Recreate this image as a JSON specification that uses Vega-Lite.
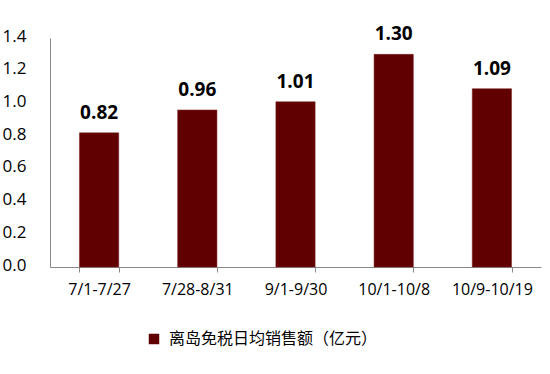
{
  "$schema": "https://vega.github.io/schema/vega-lite/v6.json",
  "autosize": {"type": "none"},
  "padding": {"left": 50, "top": 38, "right": 9, "bottom": 107},
  "width": 491,
  "height": 229,
  "background": "white",
  "data": {"values": [
    {"period": "7/1-7/27", "value": 0.82, "series": "离岛免税日均销售额（亿元）"},
    {"period": "7/28-8/31", "value": 0.96, "series": "离岛免税日均销售额（亿元）"},
    {"period": "9/1-9/30", "value": 1.01, "series": "离岛免税日均销售额（亿元）"},
    {"period": "10/1-10/8", "value": 1.30, "series": "离岛免税日均销售额（亿元）"},
    {"period": "10/9-10/19", "value": 1.09, "series": "离岛免税日均销售额（亿元）"}
  ]},
  "config": {
    "view": {"stroke": null},
    "font": "Open Sans"
  },
  "encoding": {
    "x": {
      "field": "period", "type": "nominal", "sort": null,
      "scale": {"paddingInner": 0.6, "paddingOuter": 0.3},
      "axis": {
        "title": null, "labelAngle": 0, "labelFontSize": 16, "labelColor": "#000000",
        "labelFont": "Open Sans", "labelPadding": 9,
        "domainColor": "#888888", "tickColor": "#888888", "tickSize": 5,
        "tickBand": "extent"
      }
    },
    "y": {
      "field": "value", "type": "quantitative",
      "scale": {"domain": [0, 1.4], "nice": false},
      "axis": {
        "title": null, "values": [0, 0.2, 0.4, 0.6, 0.8, 1.0, 1.2, 1.4],
        "format": ".1f", "grid": false, "ticks": false,
        "labelFontSize": 17, "labelColor": "#000000", "labelPadding": 24,
        "labelOffset": -2,
        "domainColor": "#888888"
      }
    }
  },
  "layer": [
    {
      "mark": {"type": "bar", "stroke": "#7a2020", "strokeWidth": 0.5},
      "encoding": {
        "color": {
          "field": "series", "type": "nominal",
          "scale": {"range": ["#600000"]},
          "legend": {
            "title": null, "orient": "none", "legendX": 96, "legendY": 293,
            "symbolType": "square", "symbolSize": 110, "symbolStrokeWidth": 0,
            "labelFontSize": 16, "labelFont": "Noto Sans CJK SC", "labelColor": "#000000",
            "labelOffset": 7, "padding": 0, "labelLimit": 400
          }
        }
      }
    },
    {
      "mark": {"type": "text", "baseline": "alphabetic", "dy": -14, "fontSize": 19, "fontWeight": "bold", "color": "#000000"},
      "encoding": {
        "text": {"field": "value", "type": "quantitative", "format": ".2f"}
      }
    }
  ]
}
